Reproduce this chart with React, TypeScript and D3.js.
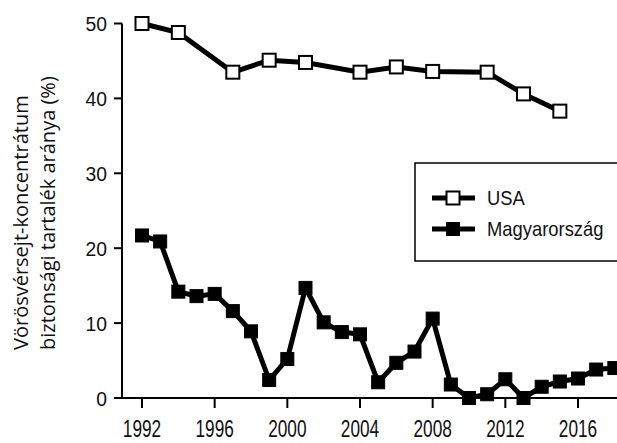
import React from 'react'
import * as d3 from 'd3'

// USA (white squares)
const usaYears = [1992, 1994, 1997, 1999, 2001, 2004, 2006, 2008, 2011, 2013, 2015]
const usaValues = [50.0, 48.8, 43.5, 45.1, 44.8, 43.5, 44.2, 43.6, 43.5, 40.6, 38.3]

// Magyarország (black squares)
const huYears = [1992, 1993, 1994, 1995, 1996, 1997, 1998, 1999, 2000, 2001, 2002, 2003, 2004, 2005,
  2006, 2007, 2008, 2009, 2010, 2011, 2012, 2013, 2014, 2015, 2016, 2017, 2018]
const huValues = [21.7, 20.9, 14.2, 13.6, 13.9, 11.6, 8.9, 2.4, 5.2, 14.7, 10.1, 8.8, 8.5, 2.1,
  4.7, 6.2, 10.6, 1.8, 0, 0.5, 2.5, 0, 1.5, 2.2, 2.6, 3.8, 4.0]

const xTicks = [1992, 1996, 2000, 2004, 2008, 2012, 2016]
const yTicks = [0, 10, 20, 30, 40, 50]

const W = 617
const H = 443
const axisX = 122
const axisY = 398

const x = d3.scaleLinear().domain([1992, 2016]).range([142, 578])
const y = d3.scaleLinear().domain([0, 50]).range([axisY, 23.5])

const line = d3.line<[number, number]>()
  .x(d => x(d[0]))
  .y(d => y(d[1]))

const usaPts: [number, number][] = usaYears.map((yr, i) => [yr, usaValues[i]])
const huPts: [number, number][] = huYears.map((yr, i) => [yr, huValues[i]])

const numFont = '"Liberation Sans", Arial, sans-serif'
const M = 13 // marker size

function Marker({ cx, cy, filled }: { cx: number; cy: number; filled: boolean }) {
  return (
    <rect x={cx - M / 2} y={cy - M / 2} width={M} height={M}
      fill={filled ? '#000' : '#fff'} stroke="#000" strokeWidth={filled ? 1 : 2} />
  )
}

export default function App() {
  return (
    <svg width={W} height={H} style={{ position: 'absolute', left: 0, top: 0, background: '#fff' }}>
      {/* y axis title */}
      <g fontFamily='"Open Sans", sans-serif' fontSize={20} fill="#111">
        <text transform="translate(28,350) rotate(-90)">Vörösvérsejt-koncentrátum</text>
        <text transform="translate(55,350) rotate(-90)">biztonsági tartalék aránya (%)</text>
      </g>

      {/* axes */}
      <line x1={axisX} x2={axisX} y1={y(50)} y2={axisY} stroke="#000" strokeWidth={2} />
      <line x1={axisX} x2={W} y1={axisY} y2={axisY} stroke="#000" strokeWidth={2} />
      {yTicks.map(t => (
        <g key={'y' + t}>
          <line x1={axisX - 8} x2={axisX} y1={y(t)} y2={y(t)} stroke="#000" strokeWidth={2} />
          <text transform={`translate(107,${y(t) + 7.5}) scale(0.92,1)`} textAnchor="end"
            fontFamily={numFont} fontSize={21} fill="#111">{t}</text>
        </g>
      ))}
      {xTicks.map(t => (
        <g key={'x' + t}>
          <line x1={x(t)} x2={x(t)} y1={axisY} y2={axisY + 10} stroke="#000" strokeWidth={2} />
          <text transform={`translate(${x(t)},437) scale(0.75,1)`} textAnchor="middle"
            fontFamily={numFont} fontSize={23} fill="#111">{t}</text>
        </g>
      ))}

      {/* series */}
      <path d={line(usaPts) || ''} fill="none" stroke="#000" strokeWidth={5} />
      {usaPts.map((p, i) => <Marker key={'u' + i} cx={x(p[0])} cy={y(p[1])} filled={false} />)}
      <path d={line(huPts) || ''} fill="none" stroke="#000" strokeWidth={5} />
      {huPts.map((p, i) => <Marker key={'h' + i} cx={x(p[0])} cy={y(p[1])} filled={true} />)}

      {/* legend */}
      <rect x={415} y={163} width={230} height={98} fill="#fff" stroke="#000" strokeWidth={1.5} />
      <line x1={432} x2={475} y1={198} y2={198} stroke="#000" strokeWidth={5} />
      <Marker cx={453} cy={198} filled={false} />
      <text transform="translate(487,205) scale(0.92,1)" fontFamily={numFont} fontSize={20} fill="#111">USA</text>
      <line x1={432} x2={475} y1={229} y2={229} stroke="#000" strokeWidth={5} />
      <Marker cx={453} cy={229} filled={true} />
      <text transform="translate(487,236) scale(0.92,1)" fontFamily={numFont} fontSize={20} fill="#111">Magyarország</text>
    </svg>
  )
}
